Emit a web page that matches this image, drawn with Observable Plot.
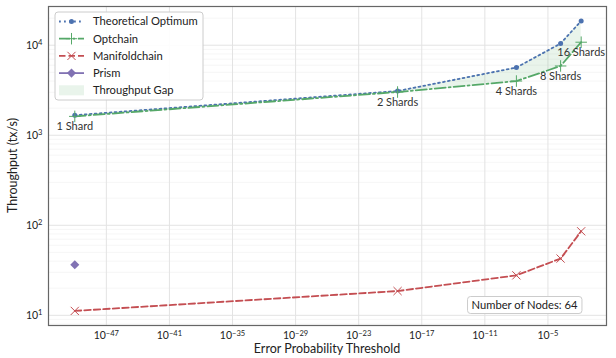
<!DOCTYPE html>
<html>
<head>
<meta charset="utf-8">
<script src="https://cdn.jsdelivr.net/npm/d3@7"></script>
<script src="https://cdn.jsdelivr.net/npm/@observablehq/plot@0.6"></script>
<style>
  html, body { margin: 0; padding: 0; background: #fff; }
  #chart { width: 616px; height: 358px; }
  svg { font-family: Lato, "Open Sans", sans-serif; }
</style>
</head>
<body>
<div id="chart"></div>
<script>
// ---- data ----
const shardLabels   = ["1 Shard", "2 Shards", "4 Shards", "8 Shards", "16 Shards"];
const errorProb     = [1e-50, 5e-20, 1e-8, 1.6e-4, 1.45e-2];
const theoretical   = [1670, 3100, 5650, 10450, 18600];
const optchain      = [1620, 3020, 4000, 5880, 10800];
const manifoldchain = [11.2, 18.6, 27.8, 42.7, 85.8];
const prismX        = [1e-50];
const prismY        = [36.5];
const numNodes      = 64;
const xTickValues   = [1e-47, 1e-41, 1e-35, 1e-29, 1e-23, 1e-17, 1e-11, 1e-5];
const yTickValues   = [10, 100, 1000, 10000];
const seriesNames   = ["Theoretical Optimum", "Optchain", "Manifoldchain", "Prism", "Throughput Gap"];

const colors = { theo: "#4c72b0", opt: "#55a868", man: "#c44e52", prism: "#8172b3" };

const rows = errorProb.map((x, i) => ({
  x, theo: theoretical[i], opt: optchain[i], man: manifoldchain[i], label: shardLabels[i]
}));
const prismRows = prismX.map((x, i) => ({ x, y: prismY[i] }));

// minor y grid positions (2..9 × decade)
const minorY = [];
for (let d = 0; d <= 4; d++) for (let k = 2; k <= 9; k++) minorY.push(k * 10 ** d);

const W = 616, H = 358;
const mL = 48, mR = 10, mT = 6, mB = 33;

const plot = Plot.plot({
  width: W, height: H,
  marginLeft: mL, marginRight: mR, marginTop: mT, marginBottom: mB,
  style: { background: "#fff", fontFamily: "Lato, sans-serif" },
  x: { type: "log", domain: [10 ** -52.5, 10 ** 0.57] },
  y: { type: "log", domain: [10 ** 0.887, 10 ** 4.43] },
  marks: [
    Plot.gridY(minorY.filter(v => v > 10 ** 0.887 && v < 10 ** 4.43), { stroke: "#f2f2f2", strokeOpacity: 1, strokeWidth: 0.7 }),
    Plot.gridY(yTickValues, { stroke: "#e3e3e3", strokeOpacity: 1, strokeWidth: 1 }),
    Plot.gridX(xTickValues, { stroke: "#e3e3e3", strokeOpacity: 1, strokeWidth: 1 }),
    Plot.axisX(xTickValues, { tickSize: 0, tickPadding: 6, fontSize: 10.5, fill: "#222",
      tickFormat: d => "10^" + Math.round(Math.log10(d)), label: null }),
    Plot.axisY(yTickValues, { tickSize: 0, tickPadding: 6, fontSize: 10.5, fill: "#222",
      tickFormat: d => "10^" + Math.round(Math.log10(d)), label: null }),
    Plot.areaY(rows, { x: "x", y1: "opt", y2: "theo", fill: colors.opt, fillOpacity: 0.13, curve: "linear" }),
    Plot.line(rows, { x: "x", y: "theo", stroke: colors.theo, strokeWidth: 1.8, strokeDasharray: "1.8,3.2" }),
    Plot.line(rows, { x: "x", y: "opt", stroke: colors.opt, strokeWidth: 1.8, strokeDasharray: "11,3,2,3" }),
    Plot.line(rows, { x: "x", y: "man", stroke: colors.man, strokeWidth: 1.8, strokeDasharray: "6.5,3" }),
    Plot.dot(rows, { x: "x", y: "theo", r: 2.5, fill: colors.theo, stroke: "none" }),
    Plot.dot(rows, { x: "x", y: "opt", symbol: "plus", r: 3.8, stroke: colors.opt, fill: "none", strokeWidth: 1 }),
    Plot.dot(rows, { x: "x", y: "man", symbol: "times", r: 3.8, stroke: colors.man, fill: "none", strokeWidth: 1 }),
    Plot.dot(prismRows, { x: "x", y: "y", symbol: "diamond2", r: 4.1, fill: colors.prism, stroke: "none" }),
    Plot.text(rows, { x: "x", y: "opt", text: "label", dy: 10, fontSize: 11, fill: "#333" }),
    Plot.frame({ stroke: "#666", strokeWidth: 1.2 })
  ]
});

document.getElementById("chart").appendChild(plot);
const svg = d3.select(plot);

// superscript tick labels
plot.querySelectorAll('g[aria-label$="axis tick label"] text').forEach(t => {
  const s = t.textContent;
  const m = s.match(/^10\^(-?\d+)$/);
  if (!m) return;
  t.textContent = "10";
  const ts = document.createElementNS("http://www.w3.org/2000/svg", "tspan");
  ts.setAttribute("dy", "-0.45em");
  ts.setAttribute("font-size", "0.72em");
  ts.textContent = m[1].replace("-", "\u2212");
  t.appendChild(ts);
});

// axis titles
svg.append("text")
  .attr("x", (mL + W - mR) / 2).attr("y", 353)
  .attr("text-anchor", "middle").attr("font-size", 12.5).attr("fill", "#222")
  .text("Error Probability Threshold");
svg.append("text")
  .attr("transform", `translate(17,${(mT + H - mB) / 2}) rotate(-90)`)
  .attr("text-anchor", "middle").attr("font-size", 12.5).attr("fill", "#222")
  .text("Throughput (tx/s)");

// legend
const lg = svg.append("g").attr("transform", "translate(55,12)");
lg.append("rect").attr("width", 148).attr("height", 88).attr("rx", 3)
  .attr("fill", "#fff").attr("fill-opacity", 0.9).attr("stroke", "#ccc").attr("stroke-width", 1);
const rowY = i => 9.5 + i * 17.2;
const hx0 = 4, hx1 = 29, hm = 16.5;
seriesNames.forEach((name, i) => {
  const y = rowY(i);
  const g = lg.append("g");
  if (i === 0) {
    g.append("line").attr("x1", hx0).attr("x2", hx1).attr("y1", y).attr("y2", y)
      .attr("stroke", colors.theo).attr("stroke-width", 1.8).attr("stroke-dasharray", "1.8,3.2");
    g.append("circle").attr("cx", hm).attr("cy", y).attr("r", 2.5).attr("fill", colors.theo);
  } else if (i === 1) {
    g.append("line").attr("x1", hx0).attr("x2", hx1).attr("y1", y).attr("y2", y)
      .attr("stroke", colors.opt).attr("stroke-width", 1.8).attr("stroke-dasharray", "11,3,2,3");
    g.append("path").attr("d", d3.symbol(d3.symbolPlus, 45)()).attr("transform", `translate(${hm},${y})`)
      .attr("stroke", colors.opt).attr("fill", "none").attr("stroke-width", 1);
  } else if (i === 2) {
    g.append("line").attr("x1", hx0).attr("x2", hx1).attr("y1", y).attr("y2", y)
      .attr("stroke", colors.man).attr("stroke-width", 1.8).attr("stroke-dasharray", "6.5,3");
    g.append("path").attr("d", d3.symbol(d3.symbolTimes, 45)()).attr("transform", `translate(${hm},${y})`)
      .attr("stroke", colors.man).attr("fill", "none").attr("stroke-width", 1);
  } else if (i === 3) {
    g.append("line").attr("x1", hx0).attr("x2", hx1).attr("y1", y).attr("y2", y)
      .attr("stroke", colors.prism).attr("stroke-width", 1.8);
    g.append("path").attr("d", d3.symbol(d3.symbolDiamond2, 53)()).attr("transform", `translate(${hm},${y})`)
      .attr("fill", colors.prism);
  } else {
    g.append("rect").attr("x", hx0).attr("y", y - 5).attr("width", hx1 - hx0).attr("height", 10)
      .attr("fill", colors.opt).attr("fill-opacity", 0.13);
  }
  g.append("text").attr("x", 38).attr("y", y).attr("dy", "0.35em").attr("text-anchor", "start")
    .attr("font-size", 11.2).attr("fill", "#222").text(name);
});

// nodes annotation box
const nb = svg.append("g");
const nt = nb.append("text").attr("x", 524.5).attr("y", 305).attr("dy", "0.35em")
  .attr("text-anchor", "middle").attr("font-size", 11.2).attr("fill", "#222")
  .text(`Number of Nodes: ${numNodes}`);
const bb = nt.node().getBBox();
nb.insert("rect", "text").attr("x", bb.x - 4).attr("y", 296.5).attr("width", bb.width + 8).attr("height", 17)
  .attr("rx", 3).attr("fill", "#fff").attr("stroke", "#ccc");
</script>
</body>
</html>
